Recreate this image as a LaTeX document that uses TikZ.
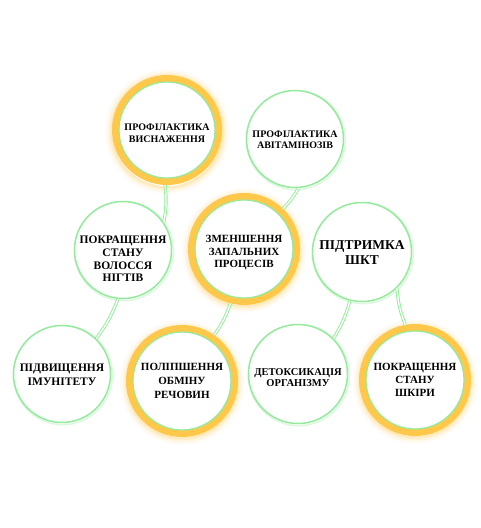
\documentclass[tikz,border=0pt]{standalone}
\usepackage{fontspec}
\setmainfont{Liberation Serif}
\definecolor{ringor}{HTML}{FFC84A}
\definecolor{lgreen}{HTML}{93EB9B}
\begin{document}
\begin{tikzpicture}[x=1pt,y=-1pt,
  bub/.style={circle, fill=white, inner sep=0pt},
  gbub/.style={bub, draw=lgreen, line width=1.5pt, minimum size=#1},
  obub/.style={bub, draw=ringor, line width=7pt, minimum size=#1},
  txt/.style={align=center, inner sep=0pt, font=\bfseries},
  conn/.style={draw=lgreen, line width=0.9pt, double=white, double distance=1.4pt},
  inner/.style={draw=lgreen, line width=1.2pt},
  glow/.style={draw=ringor, line width=1.5pt},
  gshadow/.style={draw=lgreen, line width=1.5pt, opacity=0.3}
]
\fill[white] (0,0) rectangle (480,528);
% coordinates
\coordinate (p1) at (167,130);
\coordinate (p2) at (295,139);
\coordinate (p3) at (123,250);
\coordinate (p4) at (244,249);
\coordinate (p5) at (362,252);
\coordinate (p6) at (62,374);
\coordinate (p7) at (182,381);
\coordinate (p8) at (298,374);
\coordinate (p9) at (415,380);
% glows of orange rings (slightly lower, like a soft shadow)
\foreach \p in {p1,p4,p7,p9}{
  \foreach \r/\o in {55.5/0.4,57/0.28,58.5/0.17,60/0.09,61.5/0.04}{
    \draw[glow, opacity=\o] ([yshift=-1.5pt]\p) circle (\r pt);
  }
}
% soft shadows of green circles
\foreach \p/\r in {p2/49.5,p3/49.5,p5/50.5,p6/49.5,p8/50.5}{
  \draw[gshadow] ([xshift=0.8pt,yshift=-1.2pt]\p) circle (\r pt);
}
% circles
\node[obub=103pt] (c1) at (p1) {};
\node[gbub=97pt]  (c2) at (p2) {};
\node[gbub=97pt]  (c3) at (p3) {};
\node[obub=105pt] (c4) at (p4) {};
\node[gbub=99pt]  (c5) at (p5) {};
\node[gbub=97pt]  (c6) at (p6) {};
\node[obub=105pt] (c7) at (p7) {};
\node[gbub=99pt]  (c8) at (p8) {};
\node[obub=105pt] (c9) at (p9) {};
% inner green lines of orange rings
\foreach \c/\r in {c1/48,c4/49,c7/49,c9/49}{
  \draw[inner] (\c.center) circle (\r pt);
}
% texts
\node[txt, font=\fontsize{10}{11.5}\selectfont\bfseries] (t1) at ([yshift=-3pt]c1.center) {ПРОФІЛАКТИКА\\ВИСНАЖЕННЯ};
\node[txt, font=\fontsize{10}{11.5}\selectfont\bfseries] (t2) at ([yshift=-0.5pt]c2.center) {ПРОФІЛАКТИКА\\АВІТАМІНОЗІВ};
\node[txt, font=\fontsize{11.5}{12.8}\selectfont\bfseries] (t3) at ([yshift=-9pt]c3.center) {ПОКРАЩЕННЯ\\СТАНУ\\ВОЛОССЯ\\НІГТІВ};
\node[txt, font=\fontsize{11}{12.5}\selectfont\bfseries] (t4) at ([yshift=-4pt]c4.center) {ЗМЕНШЕННЯ\\ЗАПАЛЬНИХ\\ПРОЦЕСІВ};
\node[txt, font=\fontsize{13.5}{15.5}\selectfont\bfseries] (t5) at ([yshift=-0.5pt]c5.center) {ПІДТРИМКА\\ШКТ};
\node[txt, font=\fontsize{11.5}{14}\selectfont\bfseries] (t6) at ([yshift=-1pt]c6.center) {ПІДВИЩЕННЯ\\ІМУНІТЕТУ};
\node[txt, font=\fontsize{11}{14}\selectfont\bfseries] (t7) at ([yshift=0pt]c7.center) {ПОЛІПШЕННЯ\\ОБМІНУ\\РЕЧОВИН};
\node[txt, font=\fontsize{10.5}{11.5}\selectfont\bfseries] (t8) at ([yshift=-3.5pt]c8.center) {ДЕТОКСИКАЦІЯ\\ОРГАНІЗМУ};
\node[txt, font=\fontsize{11}{13}\selectfont\bfseries] (t9) at ([yshift=0pt]c9.center) {ПОКРАЩЕННЯ\\СТАНУ\\ШКІРИ};
% connectors
\draw[conn] (c1.-92) to[bend left=8] (c3.34);
\draw[conn] (c2.-86) to[bend left=8] (c4.46);
\draw[conn] (c3.-96) to[bend left=8] (c6.46);
\draw[conn] (c4.-104) to[bend left=8] (c7.55);
\draw[conn] (c5.-104) to[bend left=8] (c8.45);
\draw[conn] (c5.-46) to[bend right=8] (c9.100);
\end{tikzpicture}
\end{document}
